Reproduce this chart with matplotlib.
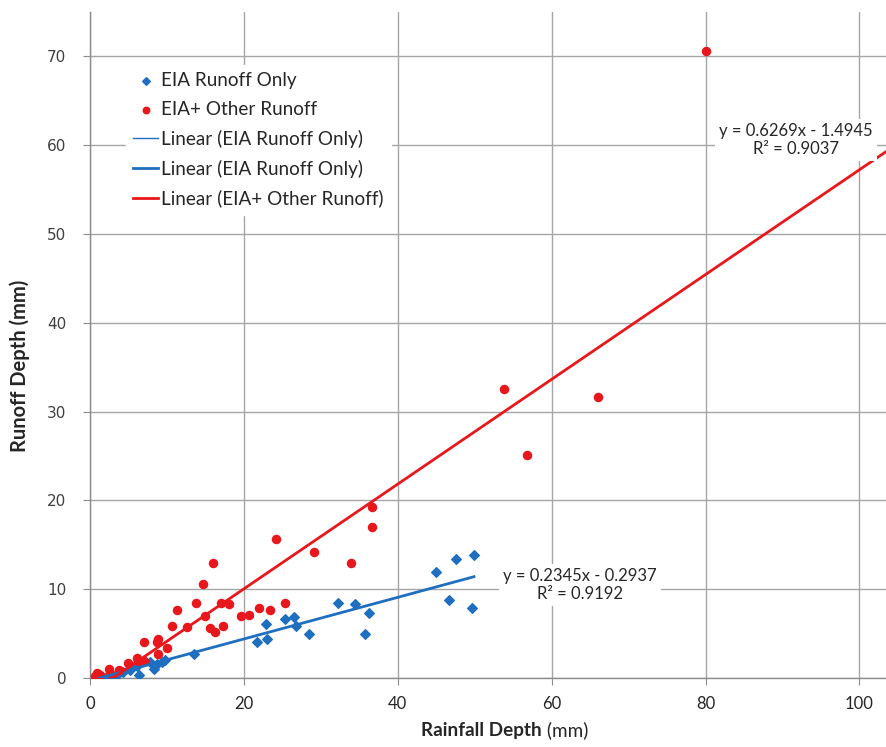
import numpy as np
import matplotlib
matplotlib.use('Agg')
import matplotlib.pyplot as plt

# Rainfall vs runoff depth, two series
blue_x = [49.9, 47.6, 44.9, 46.6, 49.6, 32.2, 34.5, 36.3, 35.7, 28.4, 26.8, 26.5,
          25.4, 22.9, 23.0, 21.7, 13.5, 9.7, 8.3, 7.8, 6.4, 4.3, 3.0, 1.9, 1.1,
          5.2, 6.1, 9.3, 8.7, 7.0, 2.5, 3.6]
blue_y = [13.8, 13.4, 11.95, 8.8, 7.9, 8.4, 8.3, 7.3, 5.0, 5.0, 5.8, 6.9,
          6.6, 6.1, 4.4, 4.0, 2.7, 2.0, 1.05, 1.8, 0.35, 0.7, 0.15, 0.0, 0.0,
          0.9, 1.3, 1.8, 1.6, 1.9, 0.3, 0.5]

red_x = [80.0, 53.8, 66.0, 56.8, 36.6, 36.6, 24.2, 29.1, 33.9, 16.0, 14.7, 11.3,
         13.8, 10.7, 12.6, 14.9, 15.6, 16.2, 17.0, 18.0, 17.3, 19.6, 20.7, 22.0,
         23.4, 25.4, 8.8, 8.7, 7.0, 8.8, 10.0, 6.1, 6.3, 7.0, 4.9, 3.8, 2.5,
         0.9, 0.65, 1.3, 2.6]
red_y = [70.6, 32.5, 31.7, 25.1, 19.3, 17.0, 15.7, 14.2, 13.0, 13.0, 10.6, 7.7,
         8.4, 5.9, 5.75, 6.95, 5.6, 5.2, 8.4, 8.3, 5.9, 7.0, 7.1, 7.9,
         7.7, 8.5, 4.4, 4.0, 4.0, 2.7, 3.35, 2.3, 1.9, 1.95, 1.65, 0.9, 1.0,
         0.6, 0.2, 0.35, 0.6]

# trend lines (slope, intercept) as drawn
blue_fit = [0.2345, -0.2937]
red_fit = [0.590, -1.76]
blue_eq = 'y = 0.2345x - 0.2937\nR² = 0.9192'
red_eq = 'y = 0.6269x - 1.4945\nR² = 0.9037'

x_ticks = [0, 20, 40, 60, 80, 100]
y_ticks = [0, 10, 20, 30, 40, 50, 60, 70]

blue_c = '#1F6FC0'
red_c = '#E8171B'
grid_c = '#A6A6A6'
txt_c = '#262626'

plt.rcParams['font.family'] = ['Lato', 'DejaVu Sans']

fig = plt.figure(figsize=(8.87, 7.47), dpi=100)
ax = fig.add_axes([90 / 887, 69 / 747, 797 / 887, 666 / 747])

xmax = 797 / 7.695
ax.set_xlim(0, xmax)
ax.set_ylim(0, 75)

ax.scatter(blue_x, blue_y, marker='D', s=24, color=blue_c, zorder=3,
           label='EIA Runoff Only')
ax.scatter(red_x, red_y, marker='o', s=34, color=red_c, zorder=3,
           label='EIA+ Other Runoff')

bx = np.array([min(blue_x), max(blue_x)])
ax.plot([], [], color=blue_c, lw=1.0, label='Linear (EIA Runoff Only)')
ax.plot(bx, np.polyval(blue_fit, bx), color=blue_c, lw=2.0, zorder=4,
        label='Linear (EIA Runoff Only)')
rx = np.array([min(red_x), xmax])
ax.plot(rx, np.polyval(red_fit, rx), color=red_c, lw=2.0, zorder=4,
        label='Linear (EIA+ Other Runoff)')

ax.set_xticks(x_ticks)
ax.set_yticks(y_ticks)
ax.grid(True, color=grid_c, lw=1.0, zorder=0)
ax.set_axisbelow(True)
for s in ['top', 'right']:
    ax.spines[s].set_visible(False)
for s in ['left', 'bottom']:
    ax.spines[s].set_color('#8C8C8C')
    ax.spines[s].set_linewidth(1.0)
ax.tick_params(axis='both', direction='out', length=5, color='#8C8C8C')
ax.tick_params(axis='x', labelsize=12, labelcolor=txt_c, pad=8)
ax.tick_params(axis='y', labelsize=11, labelcolor='#404040', pad=12)
for lab in ax.get_yticklabels():
    lab.set_family('DejaVu Sans')

leg = ax.legend(loc='upper left', bbox_to_anchor=(0.033, 0.935), fontsize=13.6,
                frameon=True, fancybox=False, edgecolor='white', framealpha=1,
                handlelength=1.3, handletextpad=0.15, labelspacing=0.62,
                borderpad=0.4, markerscale=0.8)
for t in leg.get_texts():
    t.set_color(txt_c)

ax.text(91.7, 60.6, red_eq, ha='center', va='center', fontsize=12,
        color=txt_c, linespacing=1.15, zorder=5,
        bbox=dict(facecolor='white', edgecolor='none', pad=3))
ax.text(63.7, 10.5, blue_eq, ha='center', va='center', fontsize=12,
        color=txt_c, linespacing=1.15, zorder=5,
        bbox=dict(facecolor='white', edgecolor='none', pad=3))

fig.text(0.611, 0.011, 'Rainfall Depth', ha='right', va='bottom',
         fontsize=13.6, fontweight='bold', color=txt_c)
fig.text(0.611, 0.011, ' (mm)', ha='left', va='bottom',
         fontsize=13.6, color=txt_c)
fig.text(0.022, 0.51, 'Runoff Depth (mm)', rotation=90, ha='center',
         va='center', fontsize=14.5, fontweight='bold', color=txt_c)

fig.savefig('out.png', dpi=100, facecolor='white')
